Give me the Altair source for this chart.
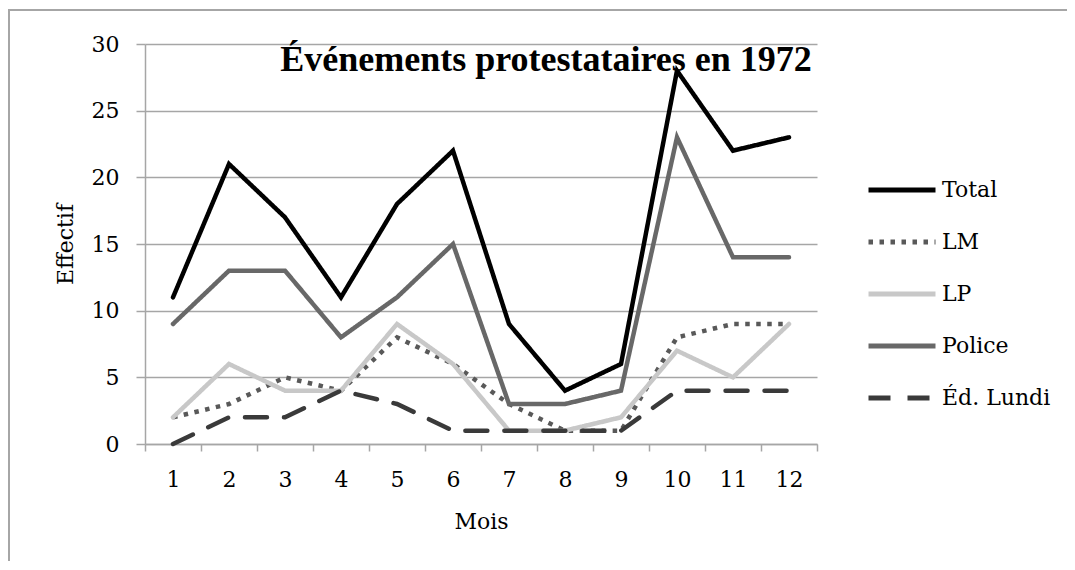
import altair as alt
import pandas as pd

# ---- data ----
months = list(range(1, 13))
series = ["Total", "LM", "LP", "Police", "Éd. Lundi"]
total = [11, 21, 17, 11, 18, 22, 9, 4, 6, 28, 22, 23]
lm = [2, 3, 5, 4, 8, 6, 3, 1, 1, 8, 9, 9]
lp = [2, 6, 4, 4, 9, 6, 1, 1, 2, 7, 5, 9]
police = [9, 13, 13, 8, 11, 15, 3, 3, 4, 23, 14, 14]
lundi = [0, 2, 2, 4, 3, 1, 1, 1, 1, 4, 4, 4]
y_ticks = [0, 5, 10, 15, 20, 25, 30]

title_text = "Événements protestataires en 1972"

# ---- styles ----
colors = ["#000000", "#595959", "#c8c8c8", "#686868", "#3a3a3a"]
dashes = [[1, 0], [4.5, 6.5], [1, 0], [1, 0], [22, 17]]
GRAY = "#a6a6a6"
FONT = "DejaVu Serif"

values = {"Total": total, "LM": lm, "LP": lp, "Police": police, "Éd. Lundi": lundi}
rows = []
for s in series:
    for m, v in zip(months, values[s]):
        rows.append({"Mois": m, "Effectif": v, "Série": s, "ordre": series.index(s)})
df = pd.DataFrame(rows)

legend = alt.Legend(
    title=None,
    orient="none",
    legendX=721,
    legendY=110,
    symbolType="stroke",
    symbolSize=4489,
    symbolStrokeWidth=5,
    labelFont=FONT,
    labelFontSize=22,
    labelColor="black",
    labelOffset=4,
    rowPadding=5,
)

x_enc = alt.X(
    "Mois:O",
    scale=alt.Scale(type="band", paddingInner=0, paddingOuter=0),
    axis=alt.Axis(
        title="Mois",
        labelAngle=0,
        tickBand="extent",
        tickSize=7,
        labelPadding=18,
        titlePadding=21,
        grid=False,
    ),
)
y_enc = alt.Y(
    "Effectif:Q",
    scale=alt.Scale(domain=[0, 30], nice=False),
    axis=alt.Axis(
        title="Effectif",
        values=y_ticks,
        tickSize=9,
        labelPadding=17,
        titlePadding=14,
        grid=True,
    ),
)
color_enc = alt.Color(
    "Série:N", scale=alt.Scale(domain=series, range=colors), legend=legend
)
dash_enc = alt.StrokeDash(
    "Série:N", scale=alt.Scale(domain=series, range=dashes), legend=legend
)

base = alt.Chart(df).encode(
    x=x_enc, y=y_enc, color=color_enc, strokeDash=dash_enc,
    order=alt.Order("ordre:Q"),
)

solid_lines = base.transform_filter(alt.datum["Série"] != "LM").mark_line(
    strokeWidth=4.5, strokeCap="round"
)
dotted_line = base.transform_filter(alt.datum["Série"] == "LM").mark_line(
    strokeWidth=4.5, strokeCap="butt"
)

frame = alt.Chart(pd.DataFrame({"k": [0]})).mark_rect(
    fill=None, stroke=GRAY, strokeWidth=2
).encode(
    x=alt.value(-136),
    y=alt.value(-34),
    x2=alt.value(1100),
    y2=alt.value(700),
)

chart = alt.layer(frame, dotted_line, solid_lines).properties(
    width=672,
    height=400,
    padding={"left": 137, "top": 36, "right": 250, "bottom": 117},
    autosize=alt.AutoSizeParams(type="none"),
    title=alt.TitleParams(
        text=title_text,
        font="Liberation Serif",
        fontSize=36,
        fontWeight="bold",
        color="black",
        anchor="middle",
        frame="group",
        offset=-70,
        dx=65,
    ),
).configure_view(stroke=None).configure_axis(
    domainColor=GRAY,
    domainWidth=1.5,
    tickColor=GRAY,
    tickWidth=1.5,
    gridColor=GRAY,
    gridWidth=1.5,
    labelFont=FONT,
    labelFontSize=22,
    labelColor="black",
    titleFont=FONT,
    titleFontSize=22,
    titleFontWeight="normal",
    titleColor="black",
)

chart.save("out.html", embed_options={"renderer": "svg", "actions": False})
